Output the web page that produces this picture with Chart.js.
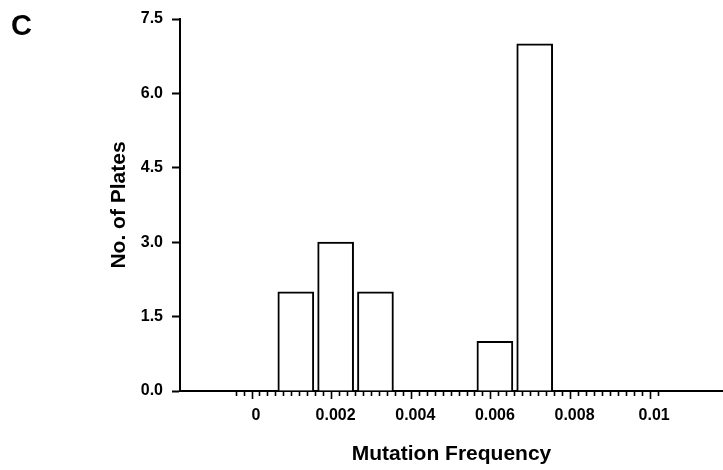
<!DOCTYPE html>
<html>
<head>
<meta charset="utf-8">
<script src="https://cdn.jsdelivr.net/npm/chart.js@4/dist/chart.umd.min.js"></script>
<style>
  html, body { margin: 0; padding: 0; background: #fff; }
  #wrap { position: relative; width: 723px; height: 470px; }
  #panel {
    position: absolute; left: 11px; top: 9px;
    font: bold 29px 'Liberation Sans', Arial, sans-serif; color: #000;
  }
</style>
</head>
<body>
<div id="wrap">
  <canvas id="chart" width="723" height="470"></canvas>
  <div id="panel">C</div>
</div>
<script>
/* ── DATA ───────────────────────────────────────────────── */
const binCenters = [0.001, 0.002, 0.003, 0.006, 0.007];
const plateCounts = [2, 3, 2, 1, 7];

const xMajorTicks  = [0, 0.002, 0.004, 0.006, 0.008, 0.01];
const xTickLabels  = ['0', '0.002', '0.004', '0.006', '0.008', '0.01'];
const yTicks       = [0, 1.5, 3.0, 4.5, 6.0, 7.5];
const yTickLabels  = ['0.0', '1.5', '3.0', '4.5', '6.0', '7.5'];

/* minor ticks every 0.0002, from -0.0004 up to 0.01 */
const minorFrom = -2, minorTo = 50, minorPerUnit = 5000;

const FONT = "'Liberation Sans', Arial, sans-serif";

function isMajor(v) {
  return xMajorTicks.some(m => Math.abs(m - v) < 1e-9);
}

new Chart(document.getElementById('chart'), {
  type: 'bar',
  data: {
    datasets: [{
      data: binCenters.map((x, i) => ({ x, y: plateCounts[i] })),
      backgroundColor: '#fff',
      borderColor: '#000',
      borderWidth: 2,
      barThickness: 36,
    }]
  },
  options: {
    responsive: false,
    animation: false,
    layout: { padding: { top: 19, right: 0, left: 0, bottom: 0 } },
    plugins: { legend: { display: false }, tooltip: { enabled: false } },
    scales: {
      x: {
        type: 'linear',
        min: -0.00178,
        max: 0.0116,
        afterBuildTicks: s => {
          const t = [];
          for (let k = minorFrom; k <= minorTo; k++) t.push({ value: k / minorPerUnit });
          s.ticks = t;
        },
        afterFit: s => { s.height = 79; },
        ticks: {
          autoSkip: false,
          maxRotation: 0,
          padding: 7,
          color: '#000',
          font: { family: FONT, size: 16, weight: 'bold' },
          callback: v => {
            const i = xMajorTicks.findIndex(m => Math.abs(m - v) < 1e-9);
            return i >= 0 ? xTickLabels[i] : '';
          }
        },
        grid: {
          drawOnChartArea: false,
          drawTicks: true,
          tickLength: 8,
          tickColor: '#000',
          tickWidth: 1.6,
          tickBorderDash: c => (c.tick && isMajor(c.tick.value)) ? [] : [4, 100],
        },
        border: { display: true, color: '#000', width: 2 },
        title: {
          display: true,
          text: 'Mutation Frequency',
          color: '#000',
          font: { family: FONT, size: 21, weight: 'bold' },
          padding: { top: 0, bottom: 3 }
        }
      },
      y: {
        min: 0,
        max: 7.5,
        afterBuildTicks: s => { s.ticks = yTicks.map(v => ({ value: v })); },
        afterFit: s => { s.width = 180; },
        ticks: {
          padding: 9,
          color: '#000',
          font: { family: FONT, size: 16, weight: 'bold' },
          callback: v => {
            const i = yTicks.findIndex(m => Math.abs(m - v) < 1e-9);
            return i >= 0 ? yTickLabels[i] : '';
          }
        },
        grid: {
          drawOnChartArea: false,
          drawTicks: true,
          tickLength: 8,
          tickColor: '#000',
          tickWidth: 2,
        },
        border: { display: true, color: '#000', width: 2 },
        title: {
          display: true,
          text: 'No. of Plates',
          color: '#000',
          font: { family: FONT, size: 21, weight: 'bold' },
          padding: { top: 107, bottom: 0 }
        }
      }
    }
  }
});
</script>
</body>
</html>
